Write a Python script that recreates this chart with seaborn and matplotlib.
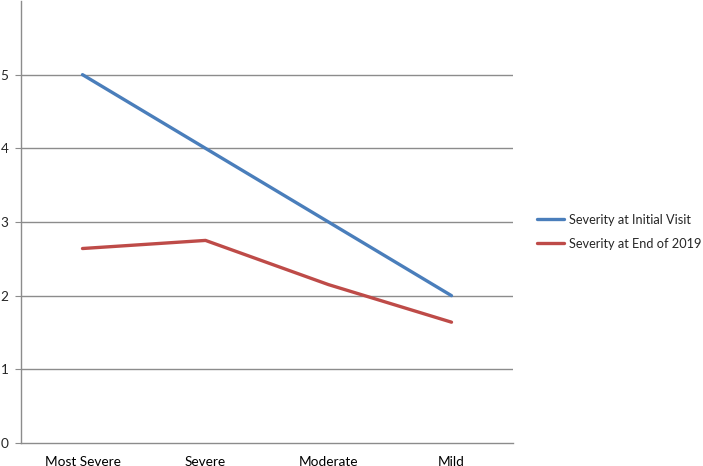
import matplotlib
matplotlib.use("Agg")
import matplotlib.pyplot as plt
import seaborn as sns
import pandas as pd

categories = ["Most Severe", "Severe", "Moderate", "Mild"]
initial_visit = [5, 4, 3, 2]
end_of_2019 = [2.64, 2.75, 2.15, 1.64]
series_names = ["Severity at Initial Visit", "Severity at End of 2019"]

df = pd.DataFrame({
    "category": categories * 2,
    "value": initial_visit + end_of_2019,
    "series": [series_names[0]] * 4 + [series_names[1]] * 4,
})

sns.set_style("white")
plt.rcParams["font.family"] = ["Lato", "DejaVu Sans"]

fig = plt.figure(figsize=(7.03, 4.66), dpi=100)
ax = fig.add_axes([21 / 703, 23 / 466, (513 - 21) / 703, (443 - 1) / 466])

palette = {series_names[0]: "#4A7EBB", series_names[1]: "#BE4B48"}
sns.lineplot(data=df, x="category", y="value", hue="series", palette=palette,
             linewidth=2.4, sort=False, ax=ax)

ax.set_xlim(-0.5, 3.5)
ax.set_ylim(0, 6)
ax.set_yticks(range(0, 6))
ax.set_xlabel("")
ax.set_ylabel("")

grid_col = "#8c8c8c"
for y in range(1, 6):
    ax.axhline(y, color=grid_col, lw=1, zorder=0)

for s in ["top", "right"]:
    ax.spines[s].set_visible(False)
ax.spines["left"].set_color(grid_col)
ax.spines["bottom"].set_color(grid_col)
ax.spines["left"].set_linewidth(1)
ax.spines["bottom"].set_linewidth(1)

ax.set_xticks([-0.5, 0.5, 1.5, 2.5, 3.5], minor=True)
ax.tick_params(axis="x", which="major", length=0, labelsize=9.8, pad=9, colors="black")
ax.tick_params(axis="x", which="minor", length=4, color=grid_col, direction="out")
ax.tick_params(axis="y", which="major", length=4, color=grid_col, direction="out",
               labelsize=9.8, pad=5, left=True)

ax.legend(loc="center left", bbox_to_anchor=(1.0, 0.478), frameon=False,
          fontsize=9.2, handlelength=2.1, handletextpad=0.35, labelspacing=0.95,
          borderaxespad=1.5)
ax.get_legend().set_title(None)

fig.savefig("out.png", dpi=100)
